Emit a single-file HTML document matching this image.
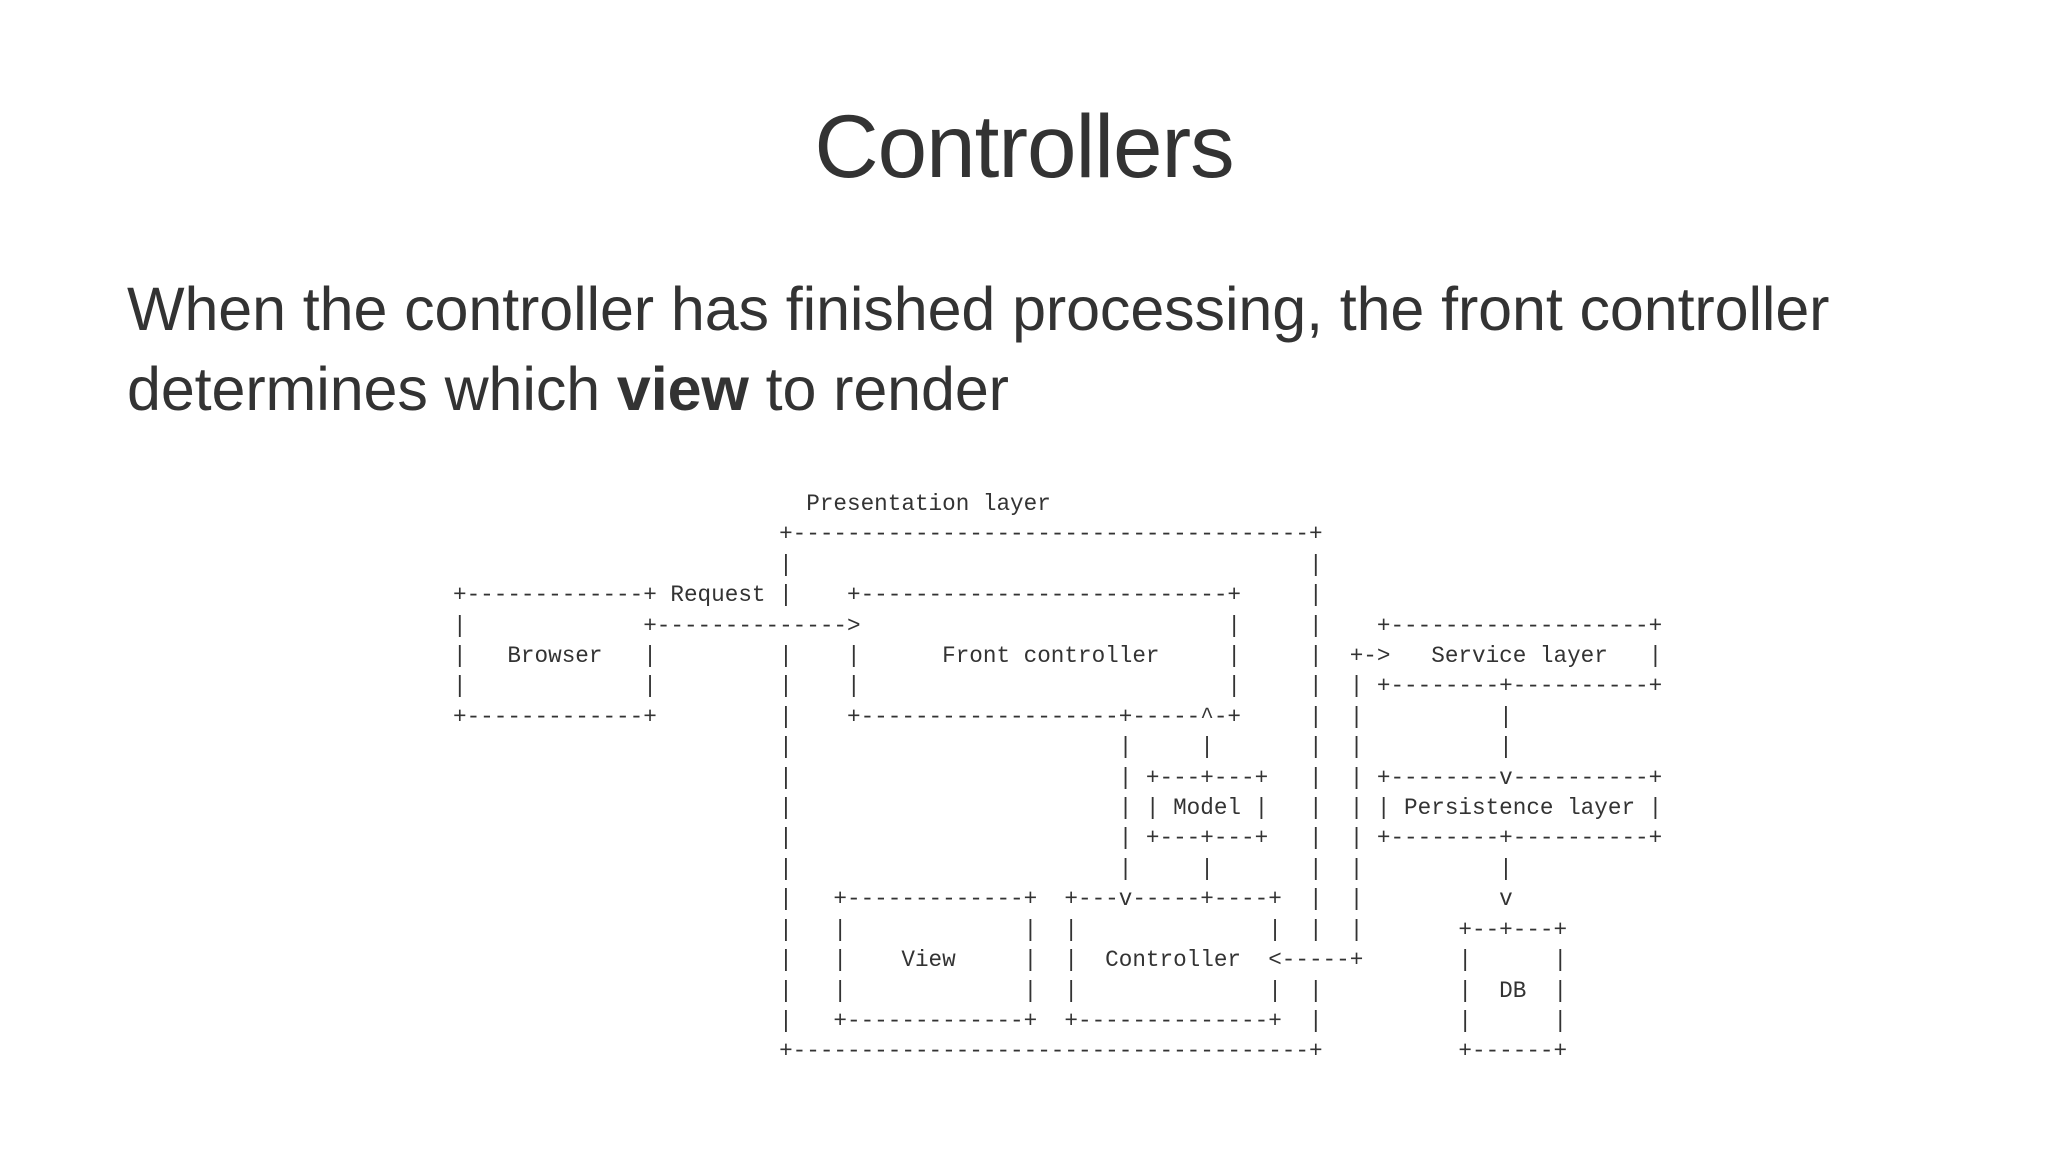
<!DOCTYPE html>
<html><head><meta charset="utf-8">
<style>
html,body{margin:0;padding:0;background:#fff;}
body{width:2048px;height:1152px;position:relative;overflow:hidden;color:#333;}
h1{position:absolute;left:0;width:2048px;top:88px;margin:0;text-align:center;font:400 89px/116px "Liberation Sans",sans-serif;letter-spacing:-1px;}
.p{position:absolute;left:127px;top:269px;font:400 61px/80px "Liberation Sans",sans-serif;white-space:nowrap;letter-spacing:-0.1px;}
pre{position:absolute;left:453px;top:489px;margin:0;font:22.65px/30.4px "Liberation Mono",monospace;color:#333;}
</style></head><body>
<h1>Controllers</h1>
<div class="p">When the controller has finished processing, the front controller<br>determines which <b>view</b> to render</div>
<pre>                          Presentation layer
                        +--------------------------------------+
                        |                                      |
+-------------+ Request |    +---------------------------+     |
|             +--------------&gt;                           |     |    +-------------------+
|   Browser   |         |    |      Front controller     |     |  +-&gt;   Service layer   |
|             |         |    |                           |     |  | +--------+----------+
+-------------+         |    +-------------------+-----^-+     |  |          |
                        |                        |     |       |  |          |
                        |                        | +---+---+   |  | +--------v----------+
                        |                        | | Model |   |  | | Persistence layer |
                        |                        | +---+---+   |  | +--------+----------+
                        |                        |     |       |  |          |
                        |   +-------------+  +---v-----+----+  |  |          v
                        |   |             |  |              |  |  |       +--+---+
                        |   |    View     |  |  Controller  &lt;-----+       |      |
                        |   |             |  |              |  |          |  DB  |
                        |   +-------------+  +--------------+  |          |      |
                        +--------------------------------------+          +------+</pre>
</body></html>
